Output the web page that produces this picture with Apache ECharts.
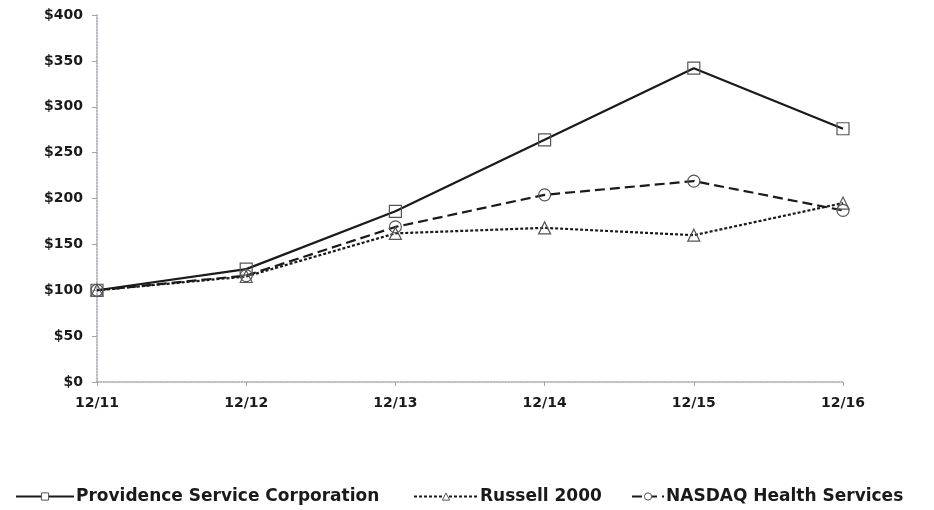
<!DOCTYPE html>
<html>
<head>
<meta charset="utf-8">
<script src="https://cdn.jsdelivr.net/npm/echarts@6/dist/echarts.min.js"></script>
<style>
  html, body { margin: 0; padding: 0; background: #fff; }
  #chart { width: 934px; height: 510px; }
</style>
</head>
<body>
<div id="chart"></div>
<script>
// data
const years = ['12/11', '12/12', '12/13', '12/14', '12/15', '12/16']
const providence = [100, 123, 186, 264, 342, 276]
const russell = [100, 115, 162, 168, 160, 195]
const nasdaqHealth = [100, 116, 169, 204, 219, 187]
const yTicks = [0, 50, 100, 150, 200, 250, 300, 350, 400]

const font = 'DejaVu Sans'
const ink = '#1a1a1a'

let myChart = echarts.init(document.querySelector('#chart'))

function lineSeries(name, data, symbol, type, size) {
  return {
    name: name,
    type: 'line',
    data: data,
    symbol: symbol,
    symbolSize: size,
    showAllSymbol: true,
    lineStyle: { color: ink, width: 2.2, type: type },
    itemStyle: { color: 'rgba(255,255,255,0)', borderColor: '#555', borderWidth: 1.2 },
    emphasis: { disabled: true },
    z: 3
  }
}

// 三个图例分开放，位置好控制
function legendAt(name, left, w) {
  return {
    data: [name],
    left: left,
    top: 483,
    itemWidth: w,
    itemHeight: 9,
    itemGap: 4,
    itemStyle: { color: '#fff', borderColor: '#555', borderWidth: 1 },
    textStyle: { fontFamily: font, fontWeight: 'bold', fontSize: 17, color: ink, padding: [0, 0, 0, -3] }
  }
}

let option = {
  animation: false,
  backgroundColor: '#fff',
  grid: { left: 97, right: 91, top: 15, bottom: 128, containLabel: false },
  legend: [
    legendAt('Providence Service Corporation', 10, 58),
    legendAt('Russell 2000', 408, 64),
    legendAt('NASDAQ Health Services', 626, 32)
  ],
  xAxis: {
    type: 'category',
    data: years,
    boundaryGap: false,
    axisLine: { lineStyle: { color: '#a9a0ad', type: 'dotted', width: 1.5 } },
    axisTick: { show: true, alignWithLabel: true, length: 4, lineStyle: { color: '#a9a0ad' } },
    axisLabel: { fontFamily: font, fontWeight: 'bold', fontSize: 14, color: ink, margin: 14 }
  },
  yAxis: {
    type: 'value',
    min: yTicks[0],
    max: yTicks[yTicks.length - 1],
    interval: 50,
    splitLine: { show: false },
    axisLine: { show: true, lineStyle: { color: '#a9a0ad', type: 'dotted', width: 1.5 } },
    axisTick: { show: true, length: 5, lineStyle: { color: '#a9a0ad' } },
    axisLabel: {
      fontFamily: font, fontWeight: 'bold', fontSize: 14, color: ink, margin: 14,
      formatter: v => '$' + v
    }
  },
  series: [
    lineSeries('Providence Service Corporation', providence, 'rect', 'solid', 12),
    lineSeries('Russell 2000', russell, 'triangle', [3, 2], 12),
    lineSeries('NASDAQ Health Services', nasdaqHealth, 'circle', [10, 5], 12)
  ]
}

myChart.setOption(option)
</script>
</body>
</html>
